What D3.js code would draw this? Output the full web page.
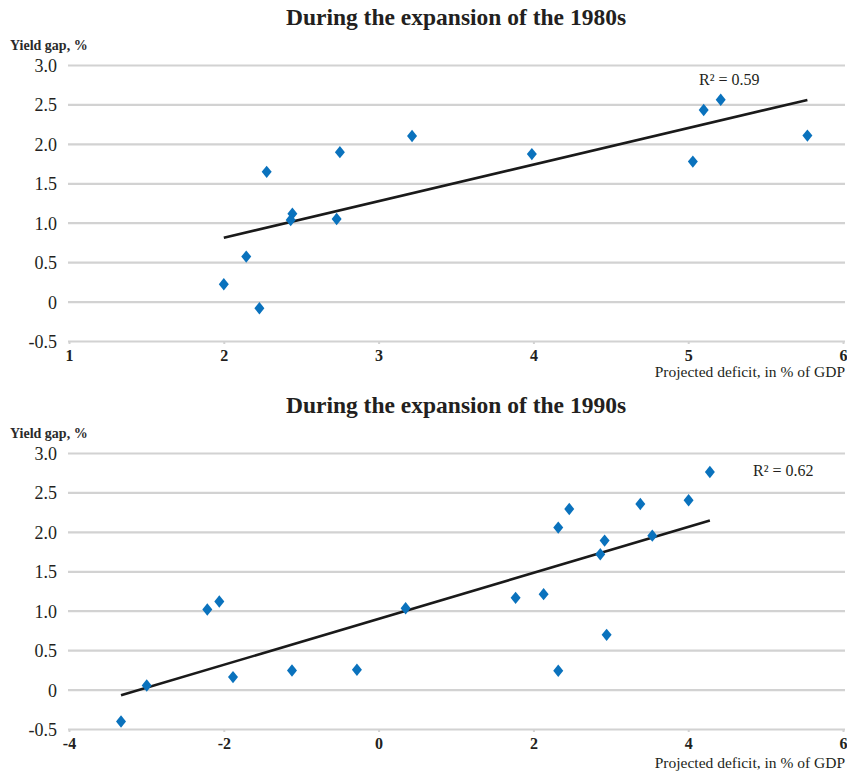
<!DOCTYPE html>
<html>
<head>
<meta charset="utf-8">
<script src="https://cdn.jsdelivr.net/npm/d3@7"></script>
<style>
  html, body { margin: 0; padding: 0; background: #fff; }
  svg { display: block; }
  text { font-family: "Liberation Serif", "DejaVu Serif", serif; fill: #231f20; }
</style>
</head>
<body>
<svg id="chart" width="847" height="772"></svg>
<script>
// ---- Data: 1980s expansion ----
const deficit1980s = [2.00, 2.145, 2.23, 2.277, 2.443, 2.432, 2.729, 2.75, 3.216, 3.99, 5.03, 5.10, 5.21, 5.77];
const yieldGap1980s = [0.22, 0.57, -0.085, 1.645, 1.115, 1.035, 1.048, 1.895, 2.10, 1.87, 1.775, 2.43, 2.56, 2.105];
const r2Label1980s = "R² = 0.59";
const title1980s = "During the expansion of the 1980s";
const xTicks1980s = [1, 2, 3, 4, 5, 6];

// ---- Data: 1990s expansion ----
const deficit1990s = [-3.328, -2.996, -2.213, -2.058, -1.881, -1.119, -0.28, 0.349, 1.770, 2.132, 2.321, 2.321, 2.463, 2.864, 2.92, 2.946, 3.381, 3.536, 4.005, 4.28];
const yieldGap1990s = [-0.404, 0.052, 1.015, 1.116, 0.158, 0.242, 0.251, 1.032, 1.163, 1.21, 0.238, 2.054, 2.29, 1.716, 1.889, 0.694, 2.354, 1.952, 2.40, 2.759];
const r2Label1990s = "R² = 0.62";
const title1990s = "During the expansion of the 1990s";
const xTicks1990s = [-4, -2, 0, 2, 4, 6];

const yTicks = [-0.5, 0, 0.5, 1.0, 1.5, 2.0, 2.5, 3.0];
const yLabel = "Yield gap, %";
const xLabel = "Projected deficit, in % of GDP";

const svg = d3.select("#chart");

// plain hyphen for negatives, as in the reference
const fmtY = d => d === 0 ? "0" : d3.format(".1f")(d).replace("\u2212", "-");
const fmtX = d => d3.format("d")(d).replace("\u2212", "-");

function panel(opts) {
  const { top, xs, ys, xTicks, title, r2, r2x, r2y, xLabelY } = opts;
  const g = svg.append("g");
  const left = 69, right = 843;
  const yTop = top + 65, yBot = top + 341;

  const x = d3.scaleLinear().domain([xTicks[0], xTicks[xTicks.length - 1]]).range([left, right]);
  const y = d3.scaleLinear().domain([-0.5, 3.0]).range([yBot, yTop]);

  // title
  g.append("text").attr("x", 456).attr("y", top + 25)
    .attr("text-anchor", "middle").attr("font-size", 23.5).attr("font-weight", "bold")
    .text(title);

  // y label
  g.append("text").attr("x", 10).attr("y", top + 50)
    .attr("font-size", 14).attr("font-weight", "bold").style("fill", "#2a2a2a")
    .text(yLabel);

  // gridlines + y labels
  const yAxis = d3.axisLeft(y).tickValues(yTicks)
    .tickSize(-(845 - 68)).tickPadding(11)
    .tickFormat(fmtY);
  const ya = g.append("g").attr("transform", `translate(68,0)`).call(yAxis);
  ya.select(".domain").remove();
  ya.selectAll(".tick line").attr("stroke", "#d2d2d2").attr("stroke-width", 2.2);
  ya.selectAll(".tick text").attr("font-size", 18).attr("font-family", "Liberation Serif, serif")
    .style("fill", "#231f20").attr("dy", "0.36em");

  // x axis tick marks and labels
  const xAxis = d3.axisBottom(x).tickValues(xTicks).tickSize(3).tickPadding(6)
    .tickFormat(fmtX);
  const xa = g.append("g").attr("transform", `translate(0,${yBot})`).call(xAxis);
  xa.select(".domain").remove();
  xa.selectAll(".tick line").attr("stroke", "#d2d2d2").attr("stroke-width", 2);
  xa.selectAll(".tick text").attr("font-size", 16).attr("font-weight", "bold")
    .attr("font-family", "Liberation Serif, serif").style("fill", "#231f20");

  // x label
  g.append("text").attr("x", 845).attr("y", xLabelY)
    .attr("text-anchor", "end").attr("font-size", 15.5)
    .text(xLabel);

  // trend line (least squares)
  const n = xs.length;
  const mx = d3.mean(xs), my = d3.mean(ys);
  let sxy = 0, sxx = 0;
  for (let i = 0; i < n; i++) { sxy += (xs[i] - mx) * (ys[i] - my); sxx += (xs[i] - mx) ** 2; }
  const b = sxy / sxx, a = my - b * mx;
  const [x0, x1] = d3.extent(xs);
  g.append("line")
    .attr("x1", x(x0)).attr("y1", y(a + b * x0))
    .attr("x2", x(x1)).attr("y2", y(a + b * x1))
    .attr("stroke", "#1a1a1a").attr("stroke-width", 2.6);

  // markers
  const pts = xs.map((v, i) => [v, ys[i]]);
  g.selectAll("path.pt").data(pts).enter().append("path")
    .attr("class", "pt")
    .attr("d", "M0,-6.2L5,0L0,6.2L-5,0Z")
    .attr("transform", d => `translate(${x(d[0])},${y(d[1])})`)
    .attr("fill", "#0a72bd");

  // R² label
  g.append("text").attr("x", r2x).attr("y", top + r2y)
    .attr("font-size", 16).text(r2);
}

panel({ top: 0, xs: deficit1980s, ys: yieldGap1980s, xTicks: xTicks1980s,
        title: title1980s, r2: r2Label1980s, r2x: 699, r2y: 85, xLabelY: 377 });
panel({ top: 388, xs: deficit1990s, ys: yieldGap1990s, xTicks: xTicks1990s,
        title: title1990s, r2: r2Label1990s, r2x: 753, r2y: 88, xLabelY: 768 });
</script>
</body>
</html>
